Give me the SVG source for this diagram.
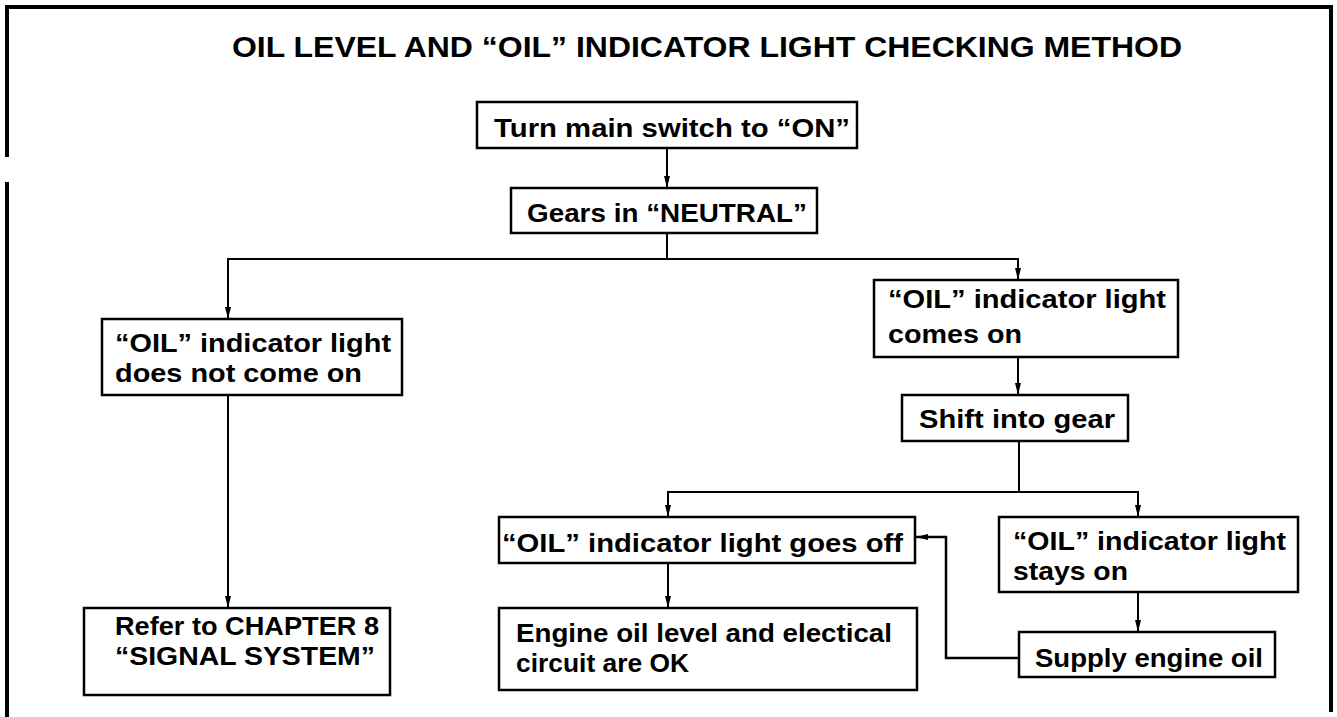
<svg xmlns="http://www.w3.org/2000/svg" width="1337" height="717" viewBox="0 0 1337 717">
<defs>
<style>
.box{fill:#fff;stroke:#000;stroke-width:2.5}
.c{fill:none;stroke:#000;stroke-width:2}
.t{font-family:"Liberation Sans",Arial,sans-serif;font-weight:bold;font-size:26px;fill:#000}
.title{font-family:"Liberation Sans",Arial,sans-serif;font-weight:bold;font-size:29px;fill:#000}
.frame{fill:none;stroke:#000;stroke-width:4}
</style>
<marker id="ah" viewBox="0 0 12 6" refX="12" refY="3" markerWidth="12" markerHeight="6" markerUnits="userSpaceOnUse" orient="auto">
<path d="M0,0 L12,3 L0,6 z" fill="#000"/>
</marker>
</defs>
<rect width="1337" height="717" fill="#fff"/>
<g id="frame">
<path class="frame" d="M7 157 V7 H1331 V712"/>
<path class="frame" d="M7 182 V717"/>
</g>
<text class="title" x="232" y="57" textLength="950" lengthAdjust="spacingAndGlyphs">OIL LEVEL AND “OIL” INDICATOR LIGHT CHECKING METHOD</text>
<g id="connectors">
<path class="c" d="M667 148 V188" marker-end="url(#ah)"/>
<path class="c" d="M667 233 V259"/>
<path class="c" d="M667 259 H228 V319" marker-end="url(#ah)"/>
<path class="c" d="M667 259 H1018 V280" marker-end="url(#ah)"/>
<path class="c" d="M228 395 V608" marker-end="url(#ah)"/>
<path class="c" d="M1018 357 V395" marker-end="url(#ah)"/>
<path class="c" d="M1019 441 V492"/>
<path class="c" d="M1019 492 H668 V517" marker-end="url(#ah)"/>
<path class="c" d="M1019 492 H1138 V517" marker-end="url(#ah)"/>
<path class="c" d="M668 563 V608" marker-end="url(#ah)"/>
<path class="c" d="M1138 592 V632" marker-end="url(#ah)"/>
<path class="c" d="M1019 658 H946 V537 H916" marker-end="url(#ah)" style="stroke-width:2.5"/>
</g>
<g id="n1">
<rect class="box" x="477" y="102" width="380" height="46"/>
<text class="t" x="494" y="137" textLength="356" lengthAdjust="spacingAndGlyphs">Turn main switch to “ON”</text>
</g>
<g id="n2">
<rect class="box" x="511" y="188" width="306" height="45"/>
<text class="t" x="527" y="222" textLength="280" lengthAdjust="spacingAndGlyphs">Gears in “NEUTRAL”</text>
</g>
<g id="n3">
<rect class="box" x="102" y="319" width="300" height="76"/>
<text class="t" x="115" y="352" textLength="276" lengthAdjust="spacingAndGlyphs">“OIL” indicator light</text>
<text class="t" x="115" y="382" textLength="247" lengthAdjust="spacingAndGlyphs">does not come on</text>
</g>
<g id="n4">
<rect class="box" x="874" y="280" width="304" height="77"/>
<text class="t" x="888" y="308" textLength="278" lengthAdjust="spacingAndGlyphs">“OIL” indicator light</text>
<text class="t" x="888" y="343" textLength="134" lengthAdjust="spacingAndGlyphs">comes on</text>
</g>
<g id="n5">
<rect class="box" x="902" y="395" width="226" height="46"/>
<text class="t" x="919" y="428" textLength="196" lengthAdjust="spacingAndGlyphs">Shift into gear</text>
</g>
<g id="n6">
<rect class="box" x="84" y="608" width="306" height="87"/>
<text class="t" x="115" y="635" textLength="264" lengthAdjust="spacingAndGlyphs">Refer to CHAPTER 8</text>
<text class="t" x="115" y="665" textLength="260" lengthAdjust="spacingAndGlyphs">“SIGNAL SYSTEM”</text>
</g>
<g id="n7">
<rect class="box" x="499" y="517" width="416" height="46"/>
<text class="t" x="502" y="552" textLength="401" lengthAdjust="spacingAndGlyphs">“OIL” indicator light goes off</text>
</g>
<g id="n8">
<rect class="box" x="999" y="517" width="299" height="75"/>
<text class="t" x="1013" y="550" textLength="273" lengthAdjust="spacingAndGlyphs">“OIL” indicator light</text>
<text class="t" x="1013" y="580" textLength="115" lengthAdjust="spacingAndGlyphs">stays on</text>
</g>
<g id="n9">
<rect class="box" x="499" y="608" width="418" height="82"/>
<text class="t" x="516" y="642" textLength="376" lengthAdjust="spacingAndGlyphs">Engine oil level and electical</text>
<text class="t" x="516" y="672" textLength="173" lengthAdjust="spacingAndGlyphs">circuit are OK</text>
</g>
<g id="n10">
<rect class="box" x="1019" y="632" width="256" height="45"/>
<text class="t" x="1035" y="667" textLength="228" lengthAdjust="spacingAndGlyphs">Supply engine oil</text>
</g>
</svg>
